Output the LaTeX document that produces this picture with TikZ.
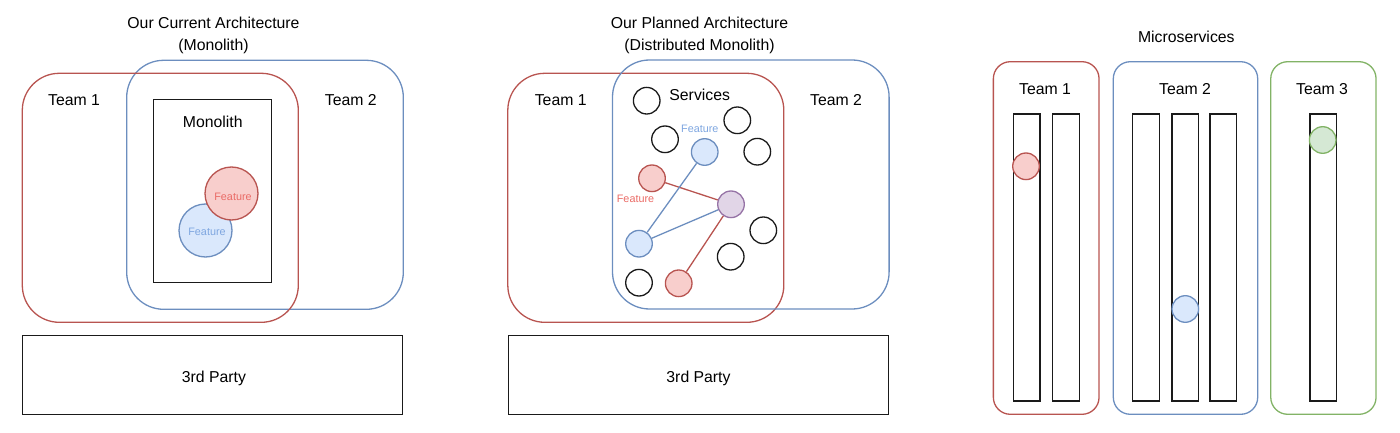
\documentclass[tikz,border=0pt]{standalone}
\usepackage{fontspec}
\setmainfont{Liberation Sans}
\definecolor{redS}{HTML}{B85450}
\definecolor{redF}{HTML}{F8CECC}
\definecolor{bluS}{HTML}{6C8EBF}
\definecolor{bluF}{HTML}{DAE8FC}
\definecolor{grnS}{HTML}{82B366}
\definecolor{grnF}{HTML}{D5E8D4}
\definecolor{purS}{HTML}{9673A6}
\definecolor{purF}{HTML}{E1D5E7}
\definecolor{redT}{HTML}{EA6B66}
\definecolor{bluT}{HTML}{7EA6E0}
\definecolor{lineK}{HTML}{1A1A1A}
\begin{document}
\begin{tikzpicture}[x=1pt,y=-1pt,line width=1.3pt,
  lbl/.style={anchor=base,inner sep=0pt,font=\fontsize{15.8}{18}\selectfont},
  flbl/.style={anchor=base,inner sep=0pt,font=\fontsize{10.8}{12}\selectfont},
  box/.style={draw=lineK,rectangle,inner sep=0pt},
  teamr/.style={draw=redS,rectangle,inner sep=0pt,rounded corners=37pt},
  teamb/.style={draw=bluS,rectangle,inner sep=0pt,rounded corners=37pt},
  mteam/.style={rectangle,inner sep=0pt,rounded corners=17pt},
  bar/.style={draw=lineK,rectangle,inner sep=0pt,minimum width=26.7pt,minimum height=287pt},
  bigc/.style={circle,inner sep=0pt,minimum size=53pt},
  smc/.style={circle,inner sep=0pt,minimum size=26.6pt},
  blk/.style={smc,draw=lineK,fill=white},
  rc/.style={draw=redS,fill=redF},
  bc/.style={draw=bluS,fill=bluF},
  gc/.style={draw=grnS,fill=grnF},
  pc/.style={draw=purS,fill=purF}]
\useasboundingbox (0,0) rectangle (1400,433);

% ---------- Panel 1 ----------
\node[lbl] (t1a) at (213.5,28.3) {Our Current Architecture};
\node[lbl] (t1b) at (213.5,50.3) {(Monolith)};
\node[teamb,minimum width=276.6pt,minimum height=249pt] (p1b) at (265,184.8) {};
\node[teamr,minimum width=276pt,minimum height=249pt] (p1r) at (160.3,197.8) {};
\node[lbl] (p1t1) at (74,106) {Team 1};
\node[lbl] (p1t2) at (350.8,106) {Team 2};
\node[box,minimum width=118.4pt,minimum height=183.4pt] (mono) at (212.5,191) {};
\node[lbl] (monot) at (212.8,127.7) {Monolith};
\node[bigc,bc] (p1bc) at (205.5,230.5) {};
\node[bigc,rc] (p1rc) at (231.5,193.5) {};
\node[flbl,text=redT] (p1rf) at (233,200) {Feature};
\node[flbl,text=bluT] (p1bf) at (207,235.3) {Feature};
\node[box,minimum width=380.4pt,minimum height=78.6pt] (p1tp) at (212.5,375) {};
\node[lbl] (p1tpt) at (214,382.7) {3rd Party};

% ---------- Panel 2 ----------
\node[lbl] (t2a) at (699.5,28.3) {Our Planned Architecture};
\node[lbl] (t2b) at (699.5,50.3) {(Distributed Monolith)};
\node[teamr,minimum width=276pt,minimum height=249pt] (p2r) at (645.8,197.8) {};
\node[teamb,minimum width=276.6pt,minimum height=249pt] (p2b) at (750.8,184.5) {};
\node[lbl] (p2t1) at (560.7,106) {Team 1};
\node[lbl] (p2t2) at (836,106) {Team 2};
\node[lbl] (serv) at (699.7,100.7) {Services};
\node[blk] (s1) at (646.7,100.7) {};
\node[blk] (s2) at (665,139.3) {};
\node[blk] (s3) at (737.3,120.3) {};
\node[blk] (s4) at (757.3,151.7) {};
\node[blk] (s5) at (763.3,230.3) {};
\node[blk] (s6) at (730.7,256.7) {};
\node[blk] (s7) at (639,282.7) {};
\node[smc,bc] (fb1) at (704.7,152) {};
\node[smc,rc] (fr1) at (652,178.3) {};
\node[smc,pc] (fp) at (731,204.3) {};
\node[smc,bc] (fb2) at (639,243.7) {};
\node[smc,rc] (fr2) at (678.7,283.3) {};
\draw[redS] (fr1) -- (fp);
\draw[redS] (fp) -- (fr2);
\draw[bluS] (fb1) -- (fb2);
\draw[bluS] (fb2) -- (fp);
\node[flbl,text=bluT] (fbl) at (699.8,132) {Feature};
\node[flbl,text=redT] (frl) at (635.5,202) {Feature};
\node[box,minimum width=380.4pt,minimum height=78.6pt] (p2tp) at (698.5,375) {};
\node[lbl] (p2tpt) at (698.5,382.7) {3rd Party};

% ---------- Panel 3 ----------
\node[lbl] (t3) at (1186.3,42.7) {Microservices};
\node[mteam,draw=redS,minimum width=105.7pt,minimum height=352.6pt] (m1) at (1046.2,238) {};
\node[mteam,draw=bluS,minimum width=144.4pt,minimum height=352.6pt] (m2) at (1185.5,238) {};
\node[mteam,draw=grnS,minimum width=105.3pt,minimum height=352.6pt] (m3) at (1323.4,238) {};
\node[lbl] (m1t) at (1045,95) {Team 1};
\node[lbl] (m2t) at (1185,95) {Team 2};
\node[lbl] (m3t) at (1322,95) {Team 3};
\node[bar] (b1) at (1026.5,257.5) {};
\node[bar] (b2) at (1066,257.5) {};
\node[bar] (b3) at (1146,257.5) {};
\node[bar] (b4) at (1185.3,257.5) {};
\node[bar] (b5) at (1223.3,257.5) {};
\node[bar] (b6) at (1323.3,257.5) {};
\node[smc,rc] (mrc) at (1026,166.3) {};
\node[smc,bc] (mbc) at (1185.3,309) {};
\node[smc,gc] (mgc) at (1322.7,140) {};
\end{tikzpicture}
\end{document}
